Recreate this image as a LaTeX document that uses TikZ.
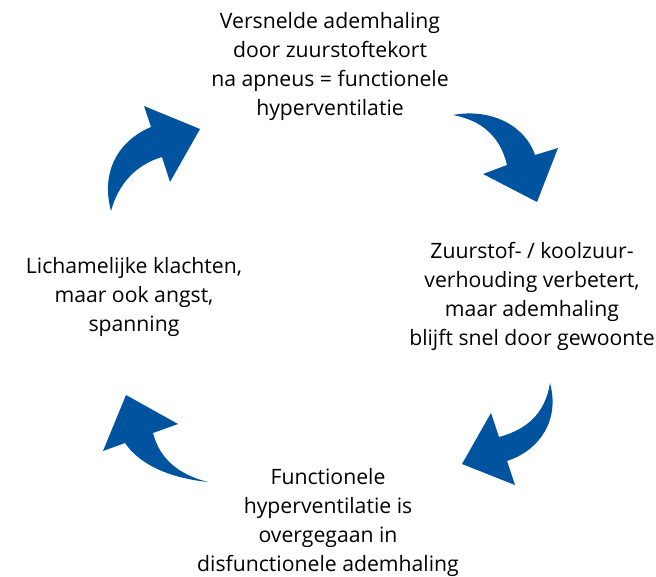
\documentclass[tikz,border=0pt]{standalone}
\usepackage{fontspec}
\setmainfont{Open Sans}
\usepackage{tikz}
\definecolor{cyclusblauw}{RGB}{0,84,159}

\begin{document}
\begin{tikzpicture}[x=1pt,y=-1pt,
    tekst/.style={align=center,inner sep=0pt,font=\fontsize{21.2}{29}\selectfont},
    pijl/.style={fill=cyclusblauw,draw=none}]
      \useasboundingbox (0,0) rectangle (656,576);
      \node[tekst] (versnel) at (330,66) {Versnelde ademhaling\\door zuurstoftekort\\na apneus = functionele\\hyperventilatie};
      \node[tekst] (verhouding) at (532,296) {Zuurstof- / koolzuur-\\verhouding verbetert,\\maar ademhaling\\blijft snel door gewoonte};
      \node[tekst] (disfunctie) at (328,522) {Functionele\\hyperventilatie is\\overgegaan in\\disfunctionele ademhaling};
      \node[tekst] (klachten) at (134,297) {Lichamelijke klachten,\\maar ook angst,\\spanning};
      % vier gebogen pijlen
      \fill[pijl] (111,211) .. controls (100,170) and (120,140) .. (151,127) -- (144,106) -- (200,129) -- (170,182) -- (162,157) .. controls (135,165) and (118,185) .. (111,211) -- cycle;
      \fill[pijl] (453,115) .. controls (490,108) and (525,125) .. (535,155) -- (558,148) -- (537,202) -- (483,174) -- (507,165) .. controls (500,135) and (480,120) .. (453,115) -- cycle;
      \fill[pijl] (550,383) .. controls (560,420) and (540,450) .. (507,461) -- (515,485) -- (462,464) -- (491,413) -- (499,437) .. controls (525,430) and (545,415) .. (550,383) -- cycle;
      \fill[pijl] (208,482) .. controls (170,478) and (140,465) .. (125,443) -- (103,451) -- (126,395) -- (178,424) -- (153,433) .. controls (160,460) and (180,475) .. (208,482) -- cycle;
\end{tikzpicture}
\end{document}
